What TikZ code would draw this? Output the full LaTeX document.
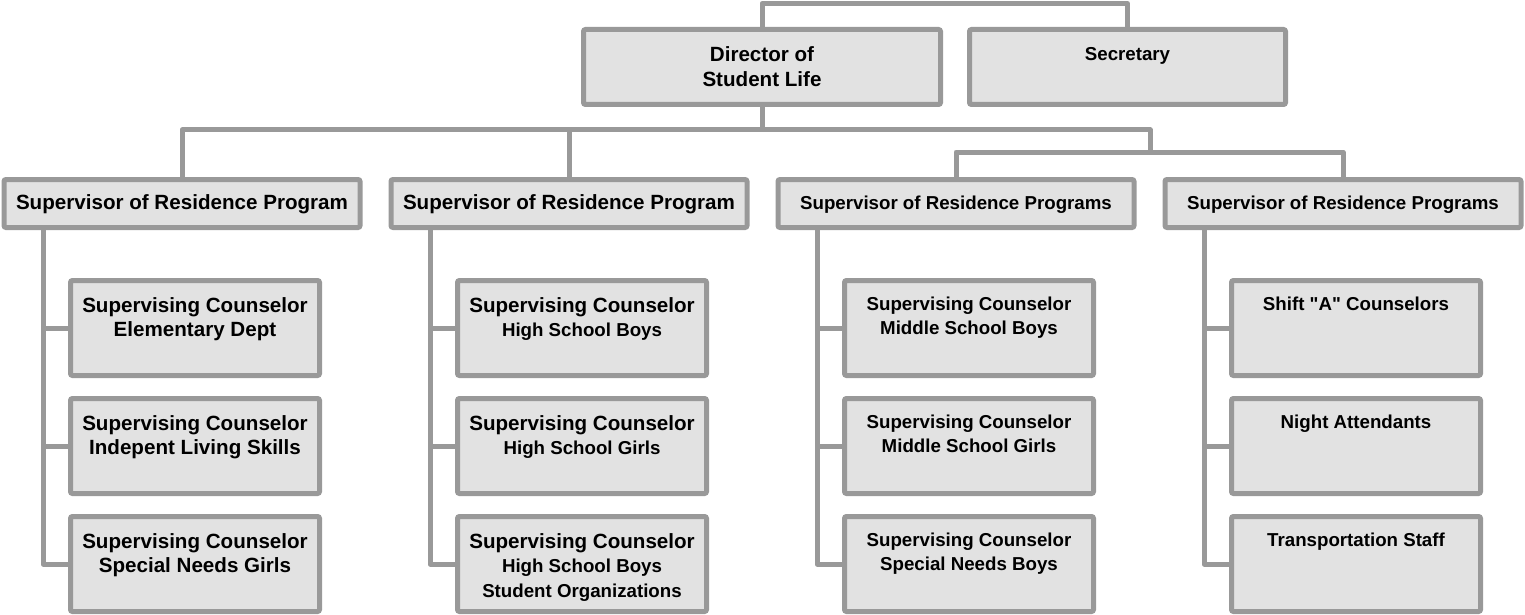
\documentclass[tikz,border=0pt]{standalone}
\usepackage{fontspec}
\setmainfont{Liberation Sans}[Ligatures=TeXOff]
\definecolor{bord}{RGB}{153,153,153}
\definecolor{boxf}{RGB}{226,226,226}
\newcommand\Lg{\fontsize{20.6pt}{24.5pt}\selectfont}
\newcommand\Sm{\fontsize{18.7pt}{24.5pt}\selectfont}
\newcommand\bx[4]{\parbox[c][#2][t]{#1}{\centering\bfseries\vspace*{#3}#4\par}}
\tikzset{
  orgbox/.style={draw=bord, fill=boxf, line width=5pt, rounded corners=2pt, inner sep=0pt, outer sep=0pt},
  conn/.style={draw=bord, line width=5pt, line join=round}
}
\begin{document}
\begin{tikzpicture}[x=1pt,y=-1pt]
\useasboundingbox (0,0) rectangle (1525,615);
% top level
\node[orgbox] (dir) at (762,67) {\bx{357pt}{75pt}{17.5pt}{\Lg Director of\\Student Life}};
\node[orgbox] (sec) at (1127.5,67) {\bx{316pt}{75pt}{17.5pt}{\Sm Secretary}};
% supervisors
\node[orgbox] (s1) at (182,203.5) {\bx{356pt}{48pt}{15.5pt}{\Lg Supervisor of Residence Program}};
\node[orgbox] (s2) at (569,203.5) {\bx{356pt}{48pt}{15.5pt}{\Lg Supervisor of Residence Program}};
\node[orgbox] (s3) at (956,203.5) {\bx{356pt}{48pt}{16.5pt}{\Sm Supervisor of Residence Programs}};
\node[orgbox] (s4) at (1343,203.5) {\bx{356pt}{48pt}{16.5pt}{\Sm Supervisor of Residence Programs}};
% children column 1
\node[orgbox] (c11) at (195,328) {\bx{249pt}{95pt}{17pt}{\Lg Supervising Counselor\\Elementary Dept}};
\node[orgbox] (c12) at (195,446) {\bx{249pt}{95pt}{17pt}{\Lg Supervising Counselor\\Indepent Living Skills}};
\node[orgbox] (c13) at (195,564) {\bx{249pt}{95pt}{17pt}{\Lg Supervising Counselor\\Special Needs Girls}};
% children column 2
\node[orgbox] (c21) at (582,328) {\bx{249pt}{95pt}{17pt}{\Lg Supervising Counselor\\\Sm High School Boys}};
\node[orgbox] (c22) at (582,446) {\bx{249pt}{95pt}{17pt}{\Lg Supervising Counselor\\\Sm High School Girls}};
\node[orgbox] (c23) at (582,564) {\bx{249pt}{95pt}{17pt}{\Lg Supervising Counselor\\\Sm High School Boys\\Student Organizations}};
% children column 3
\node[orgbox] (c31) at (969,328) {\bx{249pt}{95pt}{16pt}{\Sm Supervising Counselor\\Middle School Boys}};
\node[orgbox] (c32) at (969,446) {\bx{249pt}{95pt}{16pt}{\Sm Supervising Counselor\\Middle School Girls}};
\node[orgbox] (c33) at (969,564) {\bx{249pt}{95pt}{16pt}{\Sm Supervising Counselor\\Special Needs Boys}};
% children column 4
\node[orgbox] (c41) at (1356,328) {\bx{249pt}{95pt}{16pt}{\Sm Shift "A" Counselors}};
\node[orgbox] (c42) at (1356,446) {\bx{249pt}{95pt}{16pt}{\Sm Night Attendants}};
\node[orgbox] (c43) at (1356,564) {\bx{249pt}{95pt}{16pt}{\Sm Transportation Staff}};
% connector coordinates
\coordinate (tp) at (945,3.5);
\coordinate (bus) at (762,130);
\coordinate (jr) at (1150,130);
\coordinate (jr2) at (1150,152);
% connectors
\draw[conn] (dir.north) |- (tp) -| (sec.north);
\draw[conn] (dir.south) -- (bus);
\draw[conn] (s1.north) |- (jr) -- (jr2);
\draw[conn] (s2.north) -- (s2.north |- bus);
\draw[conn] (s3.north) |- (jr2);
\draw[conn] (s4.north) |- (jr2);
\foreach \s/\a/\b/\c in {s1/c11/c12/c13, s2/c21/c22/c23, s3/c31/c32/c33, s4/c41/c42/c43}{
  \coordinate (sp) at ([xshift=-139pt]\s.south);
  \draw[conn] (sp) |- (\c.west);
  \draw[conn] (\a.west) -- (\a.west -| sp);
  \draw[conn] (\b.west) -- (\b.west -| sp);
}
\end{tikzpicture}
\end{document}
